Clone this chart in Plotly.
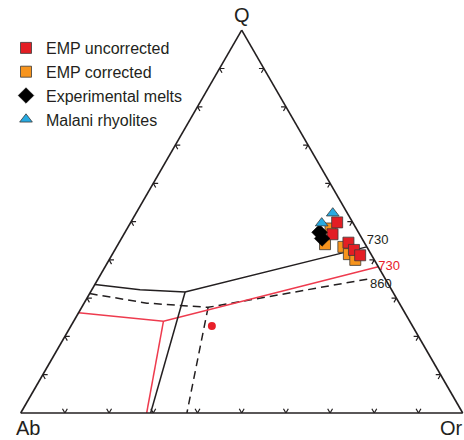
import plotly.graph_objects as go

# Normalised Q-Ab-Or compositions (Q + Ab + Or = 100)
emp_unc_q = [49.8, 46.7, 44.5, 42.6, 41.2]
emp_unc_ab = [3.5, 6.1, 3.6, 3.3, 2.6]
emp_unc_or = [46.7, 47.2, 51.9, 54.1, 56.2]

emp_cor_q = [48.2, 44.1, 43.4, 41.5, 40.0]
emp_cor_ab = [5.8, 9.1, 5.3, 5.0, 4.3]
emp_cor_or = [46.0, 46.8, 51.3, 53.5, 55.7]

exp_q = [47.2, 45.6]
exp_ab = [8.8, 9.0]
exp_or = [44.0, 45.4]

mal_q = [52.2, 49.6]
mal_ab = [3.3, 7.1]
mal_or = [44.5, 43.3]

# Cotectic boundaries: Q-Ab edge -> ternary point -> Q-Or edge, then the feldspar branch to the base
cot_black_q = [33.6, 32.2, 31.6, 43.4, None, 31.6, 0.0]
cot_black_ab = [66.4, 56.9, 47.0, 0.0, None, 47.0, 70.6]
cot_black_or = [0.0, 10.9, 21.4, 56.6, None, 21.4, 29.4]

cot_red_q = [26.2, 24.0, 38.2, None, 24.0, 0.0]
cot_red_ab = [73.8, 55.7, 0.0, None, 55.7, 71.5]
cot_red_or = [0.0, 20.3, 61.8, None, 20.3, 28.5]

cot_dash_q = [31.2, 28.7, 27.6, 35.1, None, 27.6, 0.0]
cot_dash_ab = [68.8, 57.1, 43.8, 3.4, None, 43.8, 62.4]
cot_dash_or = [0.0, 14.2, 28.6, 61.5, None, 28.6, 37.6]

min_q = [22.7]
min_ab = [45.4]
min_or = [31.9]

tick_values = [10, 20, 30, 40, 50, 60, 70, 80, 90]
tick_len = 1.1

BLACK = "#231f20"
RED_LINE = "#ee3b4e"
FONT = "Liberation Sans, Arial"


def chevrons(values, d):
    """Inward double ticks on the three edges, along the two grid directions."""
    qs, abs_, ors = [], [], []
    for t in values:
        # base (Q = 0): point (0, 100-t, t)
        pts = [(d, 100 - t, t - d), (0, 100 - t, t), (d, 100 - t - d, t)]
        # left edge (Or = 0): point (t, 100-t, 0)
        pts += [None, (t, 100 - t - d, d), (t, 100 - t, 0), (t - d, 100 - t, d)]
        # right edge (Ab = 0): point (t, 0, 100-t)
        pts += [None, (t, d, 100 - t - d), (t, 0, 100 - t), (t - d, d, 100 - t)]
        pts += [None]
        for p in pts:
            if p is None:
                qs.append(None); abs_.append(None); ors.append(None)
            else:
                qs.append(p[0]); abs_.append(p[1]); ors.append(p[2])
    return qs, abs_, ors


tq, tab, tor = chevrons(tick_values, tick_len)

fig = go.Figure()

fig.add_trace(go.Scatterternary(
    a=tq, b=tab, c=tor, mode="lines", line=dict(color=BLACK, width=1.2),
    showlegend=False, hoverinfo="skip"))

fig.add_trace(go.Scatterternary(
    a=cot_dash_q, b=cot_dash_ab, c=cot_dash_or, mode="lines",
    line=dict(color=BLACK, width=1.5, dash="8px,5px"), connectgaps=False,
    showlegend=False))
fig.add_trace(go.Scatterternary(
    a=cot_red_q, b=cot_red_ab, c=cot_red_or, mode="lines",
    line=dict(color=RED_LINE, width=1.5), connectgaps=False, showlegend=False))
fig.add_trace(go.Scatterternary(
    a=cot_black_q, b=cot_black_ab, c=cot_black_or, mode="lines",
    line=dict(color=BLACK, width=1.5), connectgaps=False, showlegend=False))

fig.add_trace(go.Scatterternary(
    a=min_q, b=min_ab, c=min_or, mode="markers",
    marker=dict(color="#e8202a", size=8, symbol="circle"), showlegend=False))

# Temperature labels at the ends of the boundaries
fig.add_trace(go.Scatterternary(
    a=[cot_black_q[3]], b=[cot_black_ab[3]], c=[cot_black_or[3]], mode="text",
    text=["730"], textposition="top right", cliponaxis=False,
    textfont=dict(size=13, color=BLACK, family=FONT), showlegend=False))
fig.add_trace(go.Scatterternary(
    a=[cot_red_q[2]], b=[cot_red_ab[2]], c=[cot_red_or[2]], mode="text",
    text=["730"], textposition="middle right", cliponaxis=False,
    textfont=dict(size=13, color="#e8202a", family=FONT), showlegend=False))
fig.add_trace(go.Scatterternary(
    a=[cot_dash_q[3]], b=[cot_dash_ab[3]], c=[cot_dash_or[3]], mode="text",
    text=["860"], textposition="bottom right", cliponaxis=False,
    textfont=dict(size=13, color=BLACK, family=FONT), showlegend=False))

outline = dict(color="#3a3a3a", width=0.8)
fig.add_trace(go.Scatterternary(
    a=emp_cor_q, b=emp_cor_ab, c=emp_cor_or, mode="markers", name="EMP corrected",
    legendrank=2, marker=dict(symbol="square", size=11, color="#f7941d", line=outline)))
fig.add_trace(go.Scatterternary(
    a=emp_unc_q, b=emp_unc_ab, c=emp_unc_or, mode="markers", name="EMP uncorrected",
    legendrank=1, marker=dict(symbol="square", size=11, color="#e31e24", line=outline)))
fig.add_trace(go.Scatterternary(
    a=exp_q, b=exp_ab, c=exp_or, mode="markers", name="Experimental melts",
    legendrank=3, marker=dict(symbol="diamond", size=12, color="#000000",
                              line=dict(color="#000000", width=0.5))))
fig.add_trace(go.Scatterternary(
    a=mal_q, b=mal_ab, c=mal_or, mode="markers", name="Malani rhyolites",
    legendrank=4, marker=dict(symbol="triangle-up", size=11, color="#27aae1", line=outline)))

W, H = 464, 440
left, right, base = 20.7, 462.7, 413.0
side = right - left
top = base - side * 3 ** 0.5 / 2

axis_common = dict(showticklabels=False, ticks="", showgrid=False, showline=True,
                   linecolor=BLACK, linewidth=1.6, min=0)

corner_font = dict(size=20, color=BLACK, family=FONT)

fig.update_layout(
    width=W, height=H,
    margin=dict(l=0, r=0, t=0, b=0),
    paper_bgcolor="white",
    font=dict(family=FONT, color=BLACK),
    ternary=dict(
        sum=100,
        bgcolor="white",
        domain=dict(x=[left / W, right / W], y=[(H - base) / H, (H - top) / H]),
        aaxis=dict(title=dict(text=""), **axis_common),
        baxis=dict(title=dict(text=""), **axis_common),
        caxis=dict(title=dict(text=""), **axis_common),
    ),
    legend=dict(x=6 / W, y=1 - 31 / H, xanchor="left", yanchor="top",
                font=dict(size=16, color=BLACK), bgcolor="rgba(0,0,0,0)",
                traceorder="normal"),
    showlegend=True,
    annotations=[
        dict(text="Q", x=241.7 / W, y=1, xref="paper", yref="paper", showarrow=False,
             font=corner_font, xanchor="center", yanchor="top", borderpad=0, yshift=-3),
        dict(text="Ab", x=15 / W, y=0, xref="paper", yref="paper", showarrow=False,
             font=corner_font, xanchor="left", yanchor="bottom", borderpad=0),
        dict(text="Or", x=1, y=0, xref="paper", yref="paper", showarrow=False,
             font=corner_font, xanchor="right", yanchor="bottom", borderpad=0),
    ],
)

fig.write_html("out.html")
